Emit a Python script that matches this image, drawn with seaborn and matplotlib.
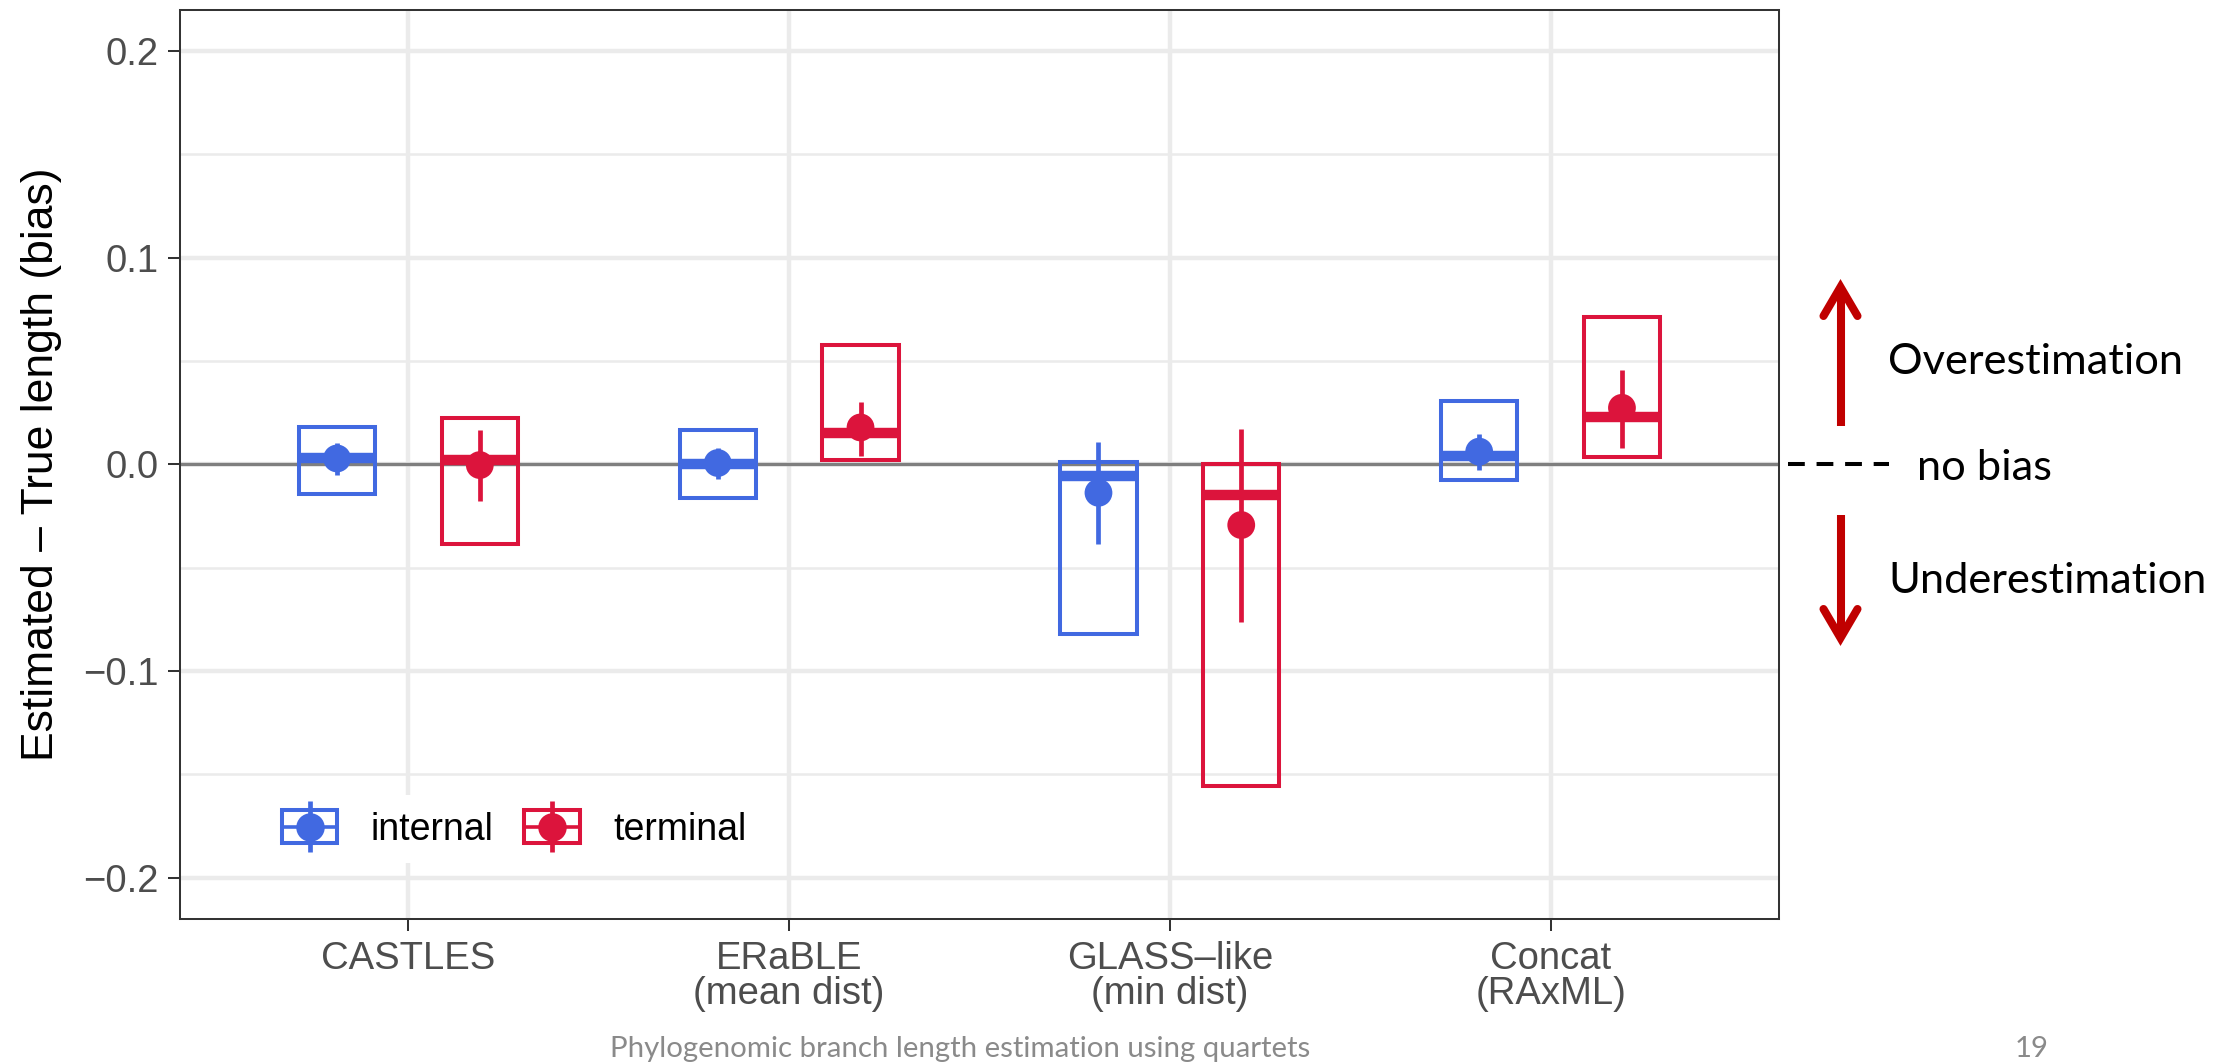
import numpy as np
import pandas as pd
import matplotlib
matplotlib.use("Agg")
import matplotlib.pyplot as plt
from matplotlib.lines import Line2D
from matplotlib.patches import Rectangle
from matplotlib.legend_handler import HandlerBase
import seaborn as sns

# ---- data -------------------------------------------------------------
methods = ["CASTLES", "ERaBLE\n(mean dist)", "GLASS–like\n(min dist)", "Concat\n(RAxML)"]
branch_types = ["internal", "terminal"]
palette = {"internal": "#4169E1", "terminal": "#DC143C"}

# internal branches: box (lower/upper), median, mean, error range
internal_box_lo = [-0.0144, -0.0163, -0.0822, -0.0078]
internal_box_hi = [0.0178, 0.0166, 0.0010, 0.0306]
internal_median = [0.0030, 0.0000, -0.0056, 0.0039]
internal_mean = [0.0028, 0.0006, -0.0138, 0.0061]
internal_err_lo = [-0.0050, -0.0073, -0.0388, -0.0028]
internal_err_hi = [0.0105, 0.0080, 0.0107, 0.0148]

# terminal branches
terminal_box_lo = [-0.0388, 0.0020, -0.1558, 0.0033]
terminal_box_hi = [0.0226, 0.0576, 0.0000, 0.0713]
terminal_median = [0.0020, 0.0149, -0.0148, 0.0231]
terminal_mean = [-0.0004, 0.0178, -0.0294, 0.0273]
terminal_err_lo = [-0.0176, 0.0042, -0.0761, 0.0079]
terminal_err_hi = [0.0166, 0.0303, 0.0171, 0.0454]

y_ticks = [-0.2, -0.1, 0.0, 0.1, 0.2]
y_minor = [-0.15, -0.05, 0.05, 0.15]

# ---- tidy table ---------------------------------------------------------
series = {
    "internal": (internal_box_lo, internal_box_hi, internal_median,
                 internal_mean, internal_err_lo, internal_err_hi),
    "terminal": (terminal_box_lo, terminal_box_hi, terminal_median,
                 terminal_mean, terminal_err_lo, terminal_err_hi),
}
rows = []
for b in branch_types:
    lo, hi, med, mean, elo, ehi = series[b]
    for i, m in enumerate(methods):
        rows.append(dict(method=m, pos=i, branch=b, box_lo=lo[i], box_hi=hi[i],
                         median=med[i], mean=mean[i], err_lo=elo[i], err_hi=ehi[i]))
df = pd.DataFrame(rows)
dodge = {"internal": -0.1875, "terminal": 0.1875}
df["x"] = df["pos"] + df["branch"].map(dodge)
df["color"] = df["branch"].map(palette)

# ---- figure -------------------------------------------------------------
W, H = 2223, 1064
sns.set_theme(style="whitegrid")
plt.rcParams["font.family"] = ["Liberation Sans", "DejaVu Sans"]


def fig_xy(px, py):
    return px / W, 1 - py / H


fig = plt.figure(figsize=(W / 100, H / 100), dpi=100)
fig.patch.set_facecolor("white")
ax = fig.add_axes([180 / W, 1 - 919 / H, (1779 - 180) / W, (919 - 9.5) / H])
ax.set_facecolor("white")

# reference line at zero bias
ax.axhline(0, color="#7F7F7F", lw=2.4, zorder=1.5)

box_w = 0.2
ax.bar(df["x"], df["box_hi"] - df["box_lo"], bottom=df["box_lo"], width=box_w,
       facecolor="none", edgecolor=df["color"], linewidth=2.9, zorder=3)
ax.hlines(df["median"], df["x"] - box_w / 2, df["x"] + box_w / 2,
          colors=df["color"], lw=7.5, zorder=3)
ax.vlines(df["x"], df["err_lo"], df["err_hi"], colors=df["color"], lw=3.4, zorder=4)
sns.scatterplot(data=df, x="x", y="mean", hue="branch", palette=palette, s=400,
                linewidth=0, legend=False, ax=ax, zorder=5)

# ---- axes styling -------------------------------------------------------
ax.set_xlim(-0.6, 3.6)
ax.set_ylim(-0.22, 0.22)
ax.set_xticks(range(len(methods)))
ax.set_xticklabels(methods)
ax.set_yticks(y_ticks)
ax.set_yticklabels([f"{v:.1f}".replace("-", "\u2212") for v in y_ticks])
ax.set_yticks(y_minor, minor=True)
ax.set_xlabel("")
ax.set_ylabel("Estimated – True length (bias)", fontsize=32, color="black")
ax.yaxis.set_label_coords(-0.0738, 0.5)

ax.grid(False)
ax.grid(which="major", axis="both", color="#EBEBEB", lw=3.2, zorder=0)
ax.grid(which="minor", axis="y", color="#EBEBEB", lw=1.8, zorder=0)
ax.set_axisbelow(True)

ax.tick_params(axis="both", which="major", bottom=True, left=True, length=8.6,
               width=1.45, color="#333333", labelsize=27.5, labelcolor="#4D4D4D", pad=7)
ax.tick_params(axis="y", which="minor", left=False, length=0)
for lbl in ax.get_xticklabels():
    lbl.set_linespacing(0.98)
for s in ax.spines.values():
    s.set_visible(True)
    s.set_color("#333333")
    s.set_linewidth(1.45)


# ---- legend with crossbar + pointrange keys ------------------------------
class KeyGlyph:
    def __init__(self, color):
        self.color = color


class KeyGlyphHandler(HandlerBase):
    def create_artists(self, legend, orig_handle, xdescent, ydescent, width,
                       height, fontsize, trans):
        c = orig_handle.color
        x0, y0 = -xdescent, -ydescent
        cx, cy = x0 + width / 2, y0 + height / 2
        box = Rectangle((x0, y0), width, height, fill=False, edgecolor=c,
                        lw=2.9, transform=trans)
        mid = Line2D([x0, x0 + width], [cy, cy], color=c, lw=2.6, transform=trans)
        bar = Line2D([cx, cx], [cy - 0.78 * height, cy + 0.78 * height], color=c,
                     lw=3.4, solid_capstyle="butt", transform=trans)
        dot = Line2D([cx], [cy], marker="o", ms=20.5, mew=0, color=c,
                     linestyle="none", transform=trans)
        return [box, mid, bar, dot]


handles = [KeyGlyph(palette[b]) for b in branch_types]
leg = ax.legend(handles, branch_types, handler_map={KeyGlyph: KeyGlyphHandler()},
                loc="center left", bbox_to_anchor=(0.0544, 0.099), borderaxespad=0,
                borderpad=0.4, ncol=2, handlelength=1.47, handleheight=0.97,
                handletextpad=0.9, columnspacing=0.82, frameon=True,
                facecolor="white", edgecolor="none", framealpha=1, fancybox=False,
                prop={"size": 27.0})
leg.set_zorder(6)
for t in leg.get_texts():
    t.set_color("black")

# ---- bias annotation to the right of the panel ----------------------------
arrow_red = "#C00000"
arrow_lw = 5.8


def fig_line(xs, ys, **kw):
    pts = [fig_xy(x, y) for x, y in zip(xs, ys)]
    fig.add_artist(Line2D([p[0] for p in pts], [p[1] for p in pts],
                          transform=fig.transFigure, **kw))


# upward arrow
fig_line([1840.5, 1840.5], [426, 290], color=arrow_red, lw=arrow_lw, solid_capstyle="butt")
fig_line([1823.5, 1840.5, 1857.5], [316, 287, 316], color=arrow_red, lw=arrow_lw,
         solid_capstyle="round", solid_joinstyle="miter")
# downward arrow
fig_line([1840.5, 1840.5], [515, 636], color=arrow_red, lw=arrow_lw, solid_capstyle="butt")
fig_line([1823.5, 1840.5, 1857.5], [609, 638, 609], color=arrow_red, lw=arrow_lw,
         solid_capstyle="round", solid_joinstyle="miter")
# dashed "no bias" marker
fig_line([1788, 1889], [464, 464], color="black", lw=2.9,
         linestyle=(0, (4.17, 2.92)), solid_capstyle="butt")

note_font = ["Lato", "DejaVu Sans"]
note_size = 31.2
fig.text(*fig_xy(1888, 374), "Overestimation", fontsize=note_size, family=note_font,
         ha="left", va="baseline", color="black")
fig.text(*fig_xy(1917, 480), "no bias", fontsize=note_size, family=note_font,
         ha="left", va="baseline", color="black")
fig.text(*fig_xy(1888, 593), "Underestimation", fontsize=note_size, family=note_font,
         ha="left", va="baseline", color="black")

# slide footer
fig.text(*fig_xy(960, 1057), "Phylogenomic branch length estimation using quartets",
         fontsize=21.2, family=note_font, ha="center", va="baseline", color="#8A8A8A")
fig.text(*fig_xy(2032, 1057), "19", fontsize=21.2, family=note_font,
         ha="center", va="baseline", color="#8A8A8A")

fig.savefig("out.png", dpi=100, facecolor="white")
